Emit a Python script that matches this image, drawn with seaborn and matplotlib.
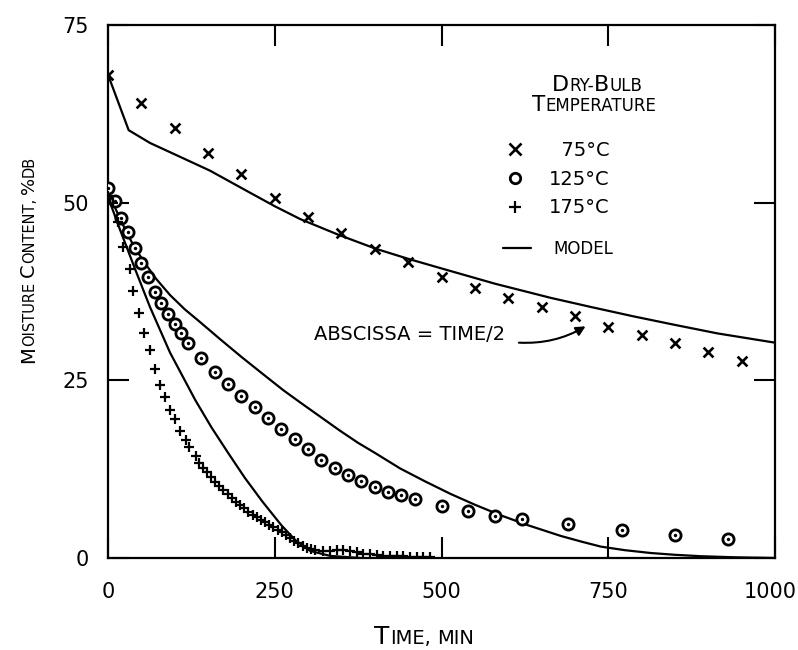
import matplotlib
matplotlib.use("Agg")
import matplotlib.pyplot as plt
import matplotlib.transforms as mtransforms
import seaborn as sns
from matplotlib.lines import Line2D

# ---------------- data (plotted abscissa) ----------------
x75 = [0, 50, 100, 150, 200, 250, 300, 350, 400, 450, 500, 550, 600, 650, 700, 750, 800, 850, 900, 950]
y75 = [68.0, 64.0, 60.5, 57.0, 54.0, 50.7, 48.0, 45.7, 43.5, 41.6, 39.5, 38.0, 36.6, 35.3, 34.0, 32.5, 31.4, 30.3, 29.0, 27.7]

x125 = [0, 10, 20, 30, 40, 50, 60, 70, 80, 90, 100, 110, 120, 140, 160, 180, 200, 220, 240, 260,
        280, 300, 320, 340, 360, 380, 400, 420, 440, 460, 500, 540, 580, 620, 690, 770, 850, 930]
y125 = [52.0, 50.2, 47.8, 45.9, 43.6, 41.5, 39.5, 37.4, 35.9, 34.3, 32.9, 31.7, 30.3, 28.1, 26.2, 24.5, 22.8, 21.2, 19.7, 18.2,
        16.7, 15.3, 13.8, 12.7, 11.7, 10.8, 10.0, 9.3, 8.9, 8.3, 7.3, 6.6, 5.9, 5.5, 4.8, 3.9, 3.2, 2.7]

x175 = [0, 8, 15, 23, 33, 38, 47, 54, 63, 71, 78, 86, 93, 101, 108, 117, 122, 132, 137, 143,
        149, 155, 161, 167, 173, 180, 186, 192, 198, 204, 210, 217, 224, 230, 236, 242, 248, 255, 261, 267,
        273, 279, 285, 292, 299, 305, 311, 323, 333, 343, 353, 363, 373, 383, 393, 403, 413, 423, 433, 443,
        453, 463, 473, 483]
y175 = [51.0, 50.0, 47.3, 43.8, 40.7, 37.6, 34.5, 31.7, 29.3, 26.6, 24.3, 22.7, 20.8, 19.6, 17.9, 16.6, 15.6, 14.4, 13.4, 12.7,
        12.1, 11.4, 10.7, 10.1, 9.6, 9.0, 8.4, 7.9, 7.5, 7.0, 6.5, 6.1, 5.8, 5.4, 5.1, 4.7, 4.4, 4.0, 3.7, 3.2,
        2.8, 2.4, 2.1, 1.7, 1.4, 1.2, 1.1, 1.0, 1.0, 1.1, 1.1, 1.0, 0.9, 0.6, 0.5, 0.4, 0.35, 0.3, 0.3, 0.25,
        0.2, 0.2, 0.2, 0.15]

mx75 = [0, 31, 63, 100, 153, 213, 250, 288, 345, 402, 450, 498, 580, 664, 725, 788, 850, 914, 1000]
my75 = [68.0, 60.2, 58.4, 56.8, 54.5, 51.4, 49.5, 47.7, 45.5, 43.5, 42.1, 40.8, 38.6, 36.6, 35.3, 34.0, 32.8, 31.6, 30.3]

mx125 = [0, 12, 25, 38, 53, 72, 93, 115, 138, 168, 200, 232, 263, 288, 318, 348, 375, 400, 438, 475, 514,
         550, 589, 630, 679, 710, 739, 775, 814, 850, 889, 940, 1000]
my125 = [51.5, 49.0, 46.4, 44.0, 41.8, 39.3, 37.0, 35.0, 33.2, 30.8, 28.3, 25.9, 23.6, 21.9, 19.9, 17.9, 16.2, 14.8, 12.6, 10.8, 9.0,
         7.5, 6.0, 4.6, 3.1, 2.3, 1.6, 1.1, 0.7, 0.45, 0.25, 0.1, 0.0]

mx175 = [0, 18, 40, 63, 93, 131, 155, 180, 205, 231, 260, 281, 303, 333, 378]
my175 = [50.8, 46.2, 40.8, 35.3, 28.9, 22.2, 18.4, 14.8, 11.3, 8.0, 4.6, 2.5, 1.0, 0.3, 0.0]

xticks = [0, 250, 500, 750, 1000]
yticks = [0, 25, 50, 75]
temp_labels = ["\u200775\u00b0C", "125\u00b0C", "175\u00b0C"]

# ---------------- figure ----------------
W, H = 798, 650
sns.set_theme(style="ticks")
FONT = ["DejaVu Sans"]
plt.rcParams["font.family"] = FONT

fig = plt.figure(figsize=(W / 100, H / 100), dpi=100)
fig.patch.set_facecolor("white")
ax = fig.add_axes([108 / W, 1 - 558 / H, (775 - 108) / W, (558 - 25) / H])
ax.set_facecolor("white")

for mx, my in [(mx75, my75), (mx125, my125), (mx175, my175)]:
    sns.lineplot(x=mx, y=my, ax=ax, color="black", linewidth=1.6, estimator=None, sort=False)

sns.scatterplot(x=x75, y=y75, ax=ax, marker="x", s=50, color="black", linewidth=1.9, zorder=3)
sns.scatterplot(x=x125, y=y125, ax=ax, marker="o", s=65, facecolor="white", edgecolor="black", linewidth=2.0, zorder=3)
sns.scatterplot(x=x125, y=y125, ax=ax, marker="o", s=6, color="black", linewidth=0, zorder=4)
sns.scatterplot(x=x175, y=y175, ax=ax, marker="+", s=50, color="black", linewidth=1.6, zorder=3)

ax.set_xlim(0, 1000)
ax.set_ylim(0, 75)
ax.set_xticks(xticks)
ax.set_yticks(yticks)
ax.set_xticklabels([str(v) for v in xticks])
ax.set_yticklabels([str(v) for v in yticks])
ax.tick_params(direction="in", length=15, width=1.5, top=True, right=True,
               labelsize=15, colors="black")
ax.tick_params(axis="x", pad=17)
ax.tick_params(axis="y", pad=14)
last = ax.get_xticklabels()[-1]
last.set_transform(last.get_transform() + mtransforms.ScaledTranslation(-5 / 100, 0, fig.dpi_scale_trans))
for sp in ax.spines.values():
    sp.set_linewidth(1.6)
    sp.set_color("black")
    sp.set_visible(True)
ax.set_xlabel("")
ax.set_ylabel("")

# ---------------- legend ----------------
h75 = Line2D([], [], marker="x", linestyle="none", color="black", markersize=8, markeredgewidth=1.9)
h125 = Line2D([], [], marker="o", linestyle="none", markerfacecolor="white", markeredgecolor="black",
              markersize=7.5, markeredgewidth=2.0)
h175 = Line2D([], [], marker="+", linestyle="none", color="black", markersize=9, markeredgewidth=1.6)
leg1 = ax.legend([h75, h125, h175], temp_labels, loc="upper left",
                 bbox_to_anchor=(505 / W, 1 - 141 / H), bbox_transform=fig.transFigure,
                 frameon=False, fontsize=14, handlelength=1.0, handletextpad=1.25,
                 labelspacing=0.5, borderpad=0, borderaxespad=0)
for t in leg1.get_texts():
    t.set_color("black")
ax.add_artist(leg1)
hm = Line2D([], [], color="black", linewidth=1.6)
leg2 = ax.legend([hm], ["MODEL"], loc="upper left",
                 bbox_to_anchor=(503 / W, 1 - 240 / H), bbox_transform=fig.transFigure,
                 frameon=False, fontsize=12, handlelength=1.7, handletextpad=1.3,
                 borderpad=0, borderaxespad=0)
for t in leg2.get_texts():
    t.set_color("black")

# ---------------- annotation ----------------
ax.text(452, 31.4, "ABSCISSA = TIME/2", fontsize=14, ha="center", va="center", color="black")
ax.annotate("", xy=(716, 32.6), xytext=(616, 30.3),
            arrowprops=dict(arrowstyle="-|>", connectionstyle="arc3,rad=0.15", lw=1.5,
                            color="black", mutation_scale=14, shrinkA=0, shrinkB=0))

# ---------------- small-caps texts ----------------
renderer = fig.canvas.get_renderer()


def smallcaps(cx, cy, parts, rotation=0):
    items = []
    total = 0.0
    for s, size in parts:
        if s == " ":
            w = size * 0.32 * 100 / 72
            items.append((None, w))
        else:
            t = fig.text(0, 0, s, fontsize=size, ha="left", va="baseline", color="black")
            w = t.get_window_extent(renderer=renderer).width
            items.append((t, w))
        total += w
    pos = -total / 2
    for t, w in items:
        if t is not None:
            if rotation == 0:
                t.set_position(((cx + pos) / W, 1 - cy / H))
            else:
                t.set_rotation(90)
                t.set_rotation_mode("anchor")
                t.set_position((cx / W, 1 - (cy - pos) / H))
        pos += w


smallcaps(424, 644, [("T", 18), ("IME,", 14), (" ", 14), ("MIN", 14)])
smallcaps(34, 259, [("M", 14), ("OISTURE", 10.5), (" ", 10.5), ("C", 14), ("ONTENT,", 10.5), (" ", 10.5),
                    ("%", 13), ("DB", 10.5)], rotation=90)
smallcaps(597, 91, [("D", 16), ("RY-", 12), ("B", 16), ("ULB", 12)])
smallcaps(594, 111, [("T", 15.5), ("EMPERATURE", 12)])

fig.savefig("out.png", dpi=100, facecolor="white")
